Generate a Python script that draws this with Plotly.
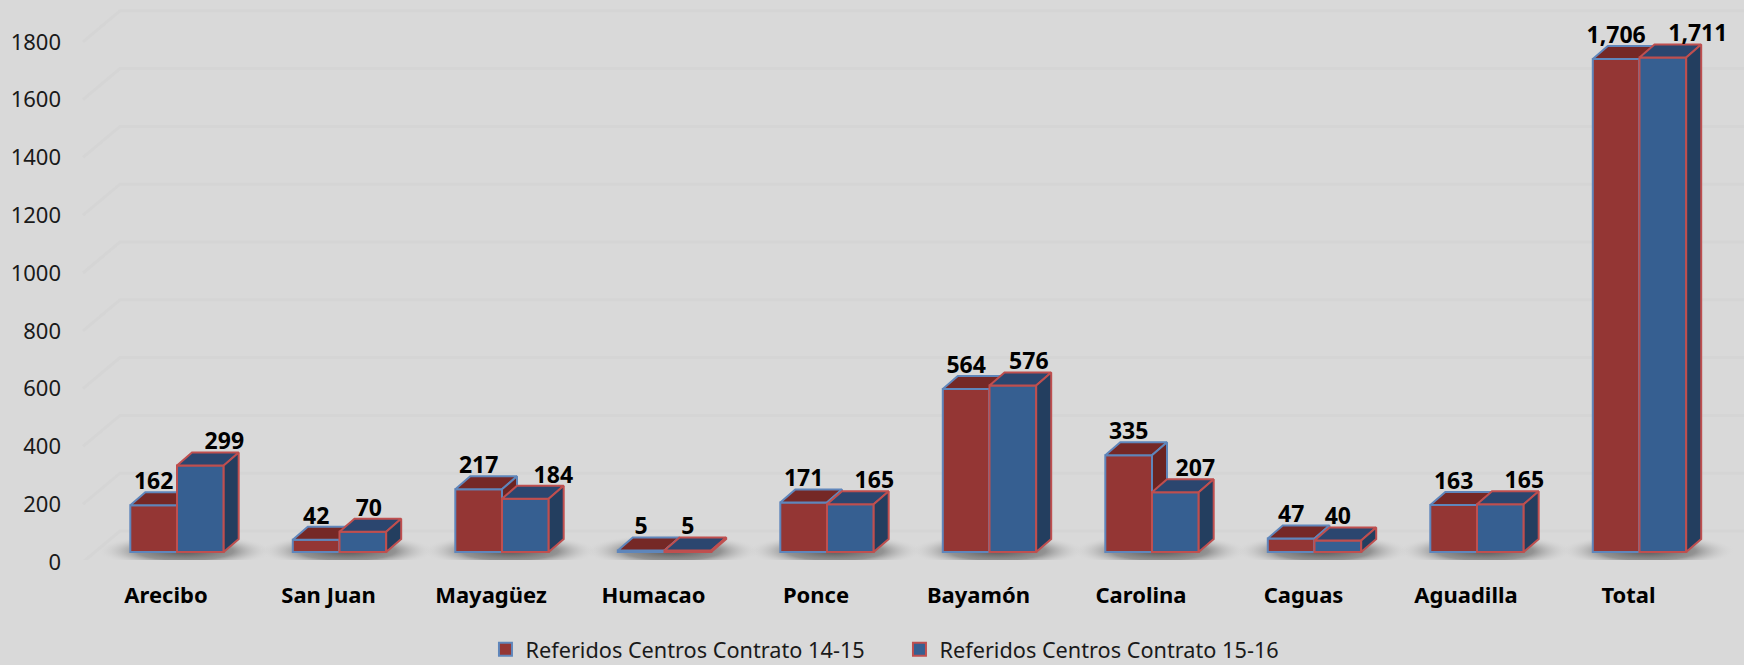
import plotly.graph_objects as go

categories = ["Arecibo", "San Juan", "Mayagüez", "Humacao", "Ponce", "Bayamón", "Carolina", "Caguas", "Aguadilla", "Total"]
series_a_name = "Referidos Centros Contrato 14-15"
series_b_name = "Referidos Centros Contrato 15-16"
series_a = [162, 42, 217, 5, 171, 564, 335, 47, 163, 1706]
series_b = [299, 70, 184, 5, 165, 576, 207, 40, 165, 1711]
y_ticks = [0, 200, 400, 600, 800, 1000, 1200, 1400, 1600, 1800]

# layout constants (pixels of the 1744x665 page)
W, H = 1744, 665
ML, MB = 66, 85
PLOT_H = H - MB
PX_X = 162.5
X0_PX = 166.0
PX_Y = 0.289
FRONT_ZERO_PX = 552.0
AXIS_ZERO_PX = 562.0
BAR_W = 46.7 / PX_X
SHIFT = 11 / PX_X
DX, DY = 15 / PX_X, 13 / PX_Y
LABEL_FONT = "Noto Sans"
BG = "#d9d9d9"

xr = [(ML - X0_PX) / PX_X, (W - X0_PX) / PX_X]
def yr(zero_px):
    return [(zero_px - PLOT_H) / PX_Y, zero_px / PX_Y]
def ax_y(px):
    return (AXIS_ZERO_PX - px) / PX_Y

# extra rightward pixel shift of the second series' labels
label_shift_b = [24, 6, 28, 0, 24, 16, 20, 0, 24, 35]

fig = go.Figure()

# back wall grid
gx, gy = [], []
gx0, gx1 = (83 - X0_PX) / PX_X, (120 - X0_PX) / PX_X
gdy = 31 / PX_Y
for t in y_ticks:
    gx += [gx0, gx1, xr[1], None]
    gy += [t, t + gdy, t + gdy, None]
fig.add_trace(go.Scatter(x=gx, y=gy, mode="lines", line=dict(color="#d5d5d5", width=3),
                         hoverinfo="skip", showlegend=False, yaxis="y"))

# floor shadows: a soft radial patch under each group, cut flat at the floor's front edge
for i in range(len(categories)):
    cx = i + SHIFT + 8 / PX_X
    hw = 88 / PX_X
    yt, yb = ax_y(534), ax_y(568)
    fig.add_trace(go.Scatter(
        x=[cx - hw, cx + hw, cx + hw, cx - hw, cx - hw],
        y=[yt, yt, yb, yb, yt], mode="lines", fill="toself",
        fillgradient=dict(type="radial", colorscale=[[0, "rgba(70,70,70,0.9)"], [0.55, "rgba(105,105,105,0.62)"], [1, "rgba(217,217,217,0)"]]),
        line=dict(width=0), hoverinfo="skip", showlegend=False, yaxis="y"))
yt, yb = ax_y(560), ax_y(578)
fig.add_trace(go.Scatter(x=[xr[0], xr[1], xr[1], xr[0], xr[0]], y=[yt, yt, yb, yb, yt],
                         mode="lines", fill="toself", fillcolor=BG, line=dict(width=0),
                         hoverinfo="skip", showlegend=False, yaxis="y"))

def series(values, offset, axis, front, top, side, edge):
    fig.add_trace(go.Bar(x=list(range(len(values))), y=values, width=BAR_W, offset=offset,
                         marker=dict(color=front, line=dict(color=edge, width=2)),
                         yaxis=axis, showlegend=False, hoverinfo="y"))
    for i, v in enumerate(values):
        l = i + offset
        r = l + BAR_W
        fig.add_trace(go.Scatter(x=[l, l + DX, r + DX, r, l], y=[v, v + DY, v + DY, v, v],
                                 mode="lines", fill="toself", fillcolor=top,
                                 line=dict(color=edge, width=2), yaxis=axis,
                                 hoverinfo="skip", showlegend=False))
        fig.add_trace(go.Scatter(x=[r, r + DX, r + DX, r, r], y=[0, DY, v + DY, v, 0],
                                 mode="lines", fill="toself", fillcolor=side,
                                 line=dict(color=edge, width=2), yaxis=axis,
                                 hoverinfo="skip", showlegend=False))

RED_EDGE = "#5f86bb"
BLUE_EDGE = "#bf4f4f"
series(series_a, SHIFT - BAR_W, "y2", "#943634", "#752826", "#6b2422", RED_EDGE)
series(series_b, SHIFT, "y3", "#365f91", "#2b466f", "#233e5f", BLUE_EDGE)

# data labels
lab_x = [i + SHIFT - BAR_W / 2 for i in range(len(categories))]
lab_y = [v + 22 / PX_Y for v in series_a]
fig.add_trace(go.Scatter(x=lab_x, y=lab_y, mode="text", text=[f"{v:,}" for v in series_a],
                         textposition="middle center", yaxis="y3", showlegend=False, hoverinfo="skip",
                         textfont=dict(family=LABEL_FONT, size=23, color="#000000", weight="bold")))
lab_x = [i + SHIFT + BAR_W / 2 + d / PX_X for i, d in enumerate(label_shift_b)]
lab_y = [v + 22 / PX_Y for v in series_b]
fig.add_trace(go.Scatter(x=lab_x, y=lab_y, mode="text", text=[f"{v:,}" for v in series_b],
                         textposition="middle center", yaxis="y3", showlegend=False, hoverinfo="skip",
                         textfont=dict(family=LABEL_FONT, size=23, color="#000000", weight="bold")))

# legend entries
for name, c, e in [(series_a_name, "#943634", RED_EDGE), (series_b_name, "#365f91", BLUE_EDGE)]:
    fig.add_trace(go.Scatter(x=[None], y=[None], mode="markers", name=name, yaxis="y",
                             marker=dict(symbol="square", size=13, color=c, line=dict(color=e, width=2))))

fig.update_layout(
    width=W, height=H,
    paper_bgcolor=BG, plot_bgcolor=BG,
    margin=dict(l=ML, r=0, t=0, b=MB, autoexpand=False),
    font=dict(family=LABEL_FONT, size=21, color="#1a1a1a"),
    xaxis=dict(range=xr, tickmode="array", tickvals=list(range(len(categories))), ticktext=categories,
               showgrid=False, zeroline=False, showline=False, ticks="",
               tickfont=dict(family=LABEL_FONT, size=22, color="#000000", weight="bold")),
    yaxis=dict(range=yr(AXIS_ZERO_PX), tickmode="array", tickvals=y_ticks, showgrid=False,
               zeroline=False, showline=False, ticks="", ticklabelstandoff=4,
               tickfont=dict(size=22, color="#1a1a1a")),
    yaxis2=dict(range=yr(FRONT_ZERO_PX), overlaying="y", visible=False),
    yaxis3=dict(range=yr(FRONT_ZERO_PX), overlaying="y", visible=False),
    legend=dict(orientation="h", x=0.4967, xanchor="center", y=-0.12, yanchor="middle",
                font=dict(size=21.7, color="#1a1a1a"), entrywidth=369, entrywidthmode="pixels",
                bgcolor="rgba(0,0,0,0)", itemclick=False, itemdoubleclick=False),
    showlegend=True,
)

fig.write_html("out.html", config={"displayModeBar": False},
               post_script="document.body.style.margin='0';document.body.style.background='#d9d9d9';")
